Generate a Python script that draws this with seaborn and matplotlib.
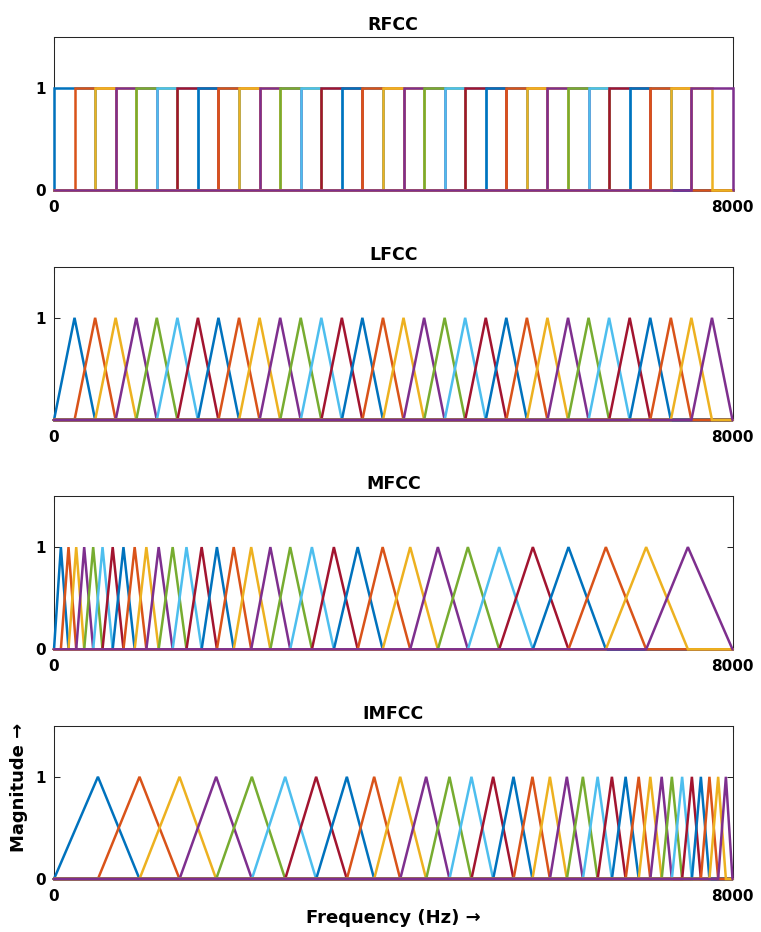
import matplotlib
matplotlib.use("Agg")
import matplotlib.pyplot as plt
import seaborn as sns
import pandas as pd

# ---------------- data ----------------
titles = ["RFCC", "LFCC", "MFCC", "IMFCC"]
f_max = 8000

# band edges (Hz) of the linearly spaced banks (RFCC and LFCC)
linear_edges = [0, 242, 485, 727, 970, 1212, 1455, 1697, 1939, 2182, 2424,
                2667, 2909, 3152, 3394, 3636, 3879, 4121, 4364, 4606, 4848,
                5091, 5333, 5576, 5818, 6061, 6303, 6545, 6788, 7030, 7273,
                7515, 7758, 8000]

# peak (centre) frequencies (Hz) of the mel filters
mfcc_peaks = [81, 171, 262, 356, 462, 572, 692, 819, 951, 1089, 1234, 1399,
              1562, 1741, 1921, 2119, 2325, 2551, 2785, 3041, 3300, 3581,
              3875, 4200, 4526, 4880, 5249, 5646, 6066, 6507, 6982, 7474]

# peak (centre) frequencies (Hz) of the inverted-mel filters
imfcc_peaks = [518, 1008, 1480, 1912, 2333, 2726, 3091, 3453, 3775, 4082,
               4388, 4663, 4922, 5178, 5418, 5641, 5847, 6047, 6236, 6410,
               6578, 6740, 6894, 7031, 7165, 7285, 7406, 7521, 7627, 7728,
               7831, 7922]

yticks_per_panel = [[0, 1], [1], [0, 1], [0, 1]]
x_ticks = [0, 8000]

matlab_colors = ["#0072BD", "#D95319", "#EDB120", "#7E2F8E",
                 "#77AC30", "#4DBEEE", "#A2142F"]


# ---------------- build tables ----------------
def rect_bank(edges):
    rows = []
    for k in range(1, len(edges) - 1):
        lo, hi = edges[k - 1], edges[k + 1]
        xs = [0, lo, lo, hi, hi, f_max]
        ys = [0, 0, 1, 1, 0, 0]
        for i, (x, y) in enumerate(zip(xs, ys)):
            rows.append({"freq": x, "mag": y, "filt": k, "i": i})
    return pd.DataFrame(rows)


def tri_bank(edges):
    rows = []
    for k in range(1, len(edges) - 1):
        xs = [0, edges[k - 1], edges[k], edges[k + 1], f_max]
        ys = [0, 0, 1, 0, 0]
        for i, (x, y) in enumerate(zip(xs, ys)):
            rows.append({"freq": x, "mag": y, "filt": k, "i": i})
    return pd.DataFrame(rows)


tables = [
    rect_bank(linear_edges),
    tri_bank(linear_edges),
    tri_bank([0] + mfcc_peaks + [f_max]),
    tri_bank([0] + imfcc_peaks + [f_max]),
]

# ---------------- style ----------------
sns.set_theme(style="ticks")
plt.rcParams["font.family"] = ["DejaVu Sans"]
plt.rcParams.update({
    "font.weight": "bold",
    "text.color": "black",
    "axes.labelcolor": "black",
    "axes.titlecolor": "black",
    "axes.edgecolor": "#262626",
    "axes.linewidth": 0.75,
    "xtick.direction": "in",
    "ytick.direction": "in",
    "xtick.top": True,
    "ytick.right": True,
    "xtick.major.size": 4,
    "ytick.major.size": 4,
    "xtick.major.width": 0.75,
    "ytick.major.width": 0.75,
    "xtick.color": "#262626",
    "ytick.color": "#262626",
    "xtick.labelcolor": "black",
    "ytick.labelcolor": "black",
})

W, H = 761, 932
fig = plt.figure(figsize=(W / 100, H / 100), dpi=100)

left_px, right_px = 54, 732.5
tops_px = [36.7, 266.7, 496, 725.7]
height_px = 153.3

axes = []
for p, (title, df, yt) in enumerate(zip(titles, tables, yticks_per_panel)):
    top = tops_px[p]
    ax = fig.add_axes([left_px / W, (H - top - height_px) / H,
                       (right_px - left_px) / W, height_px / H])
    n = df["filt"].nunique()
    pal = [matlab_colors[i % 7] for i in range(n)]
    sns.lineplot(data=df, x="freq", y="mag", hue="filt", palette=pal,
                 sort=False, estimator=None, errorbar=None, legend=False,
                 linewidth=1.8, ax=ax)
    for ln in ax.get_lines():
        ln.set_clip_on(False)
        ln.set_zorder(3)
        ln.set_solid_joinstyle("miter")
    ax.set_xlim(0, f_max)
    ax.set_ylim(0, 1.5)
    ax.set_xticks(x_ticks)
    ax.set_xticklabels([str(v) for v in x_ticks])
    ax.set_yticks(yt)
    ax.set_yticklabels([str(v) for v in yt])
    ax.tick_params(axis="x", pad=7, labelsize=11)
    ax.tick_params(axis="y", pad=6, labelsize=11)
    for lab in ax.get_xticklabels() + ax.get_yticklabels():
        lab.set_fontweight("bold")
    ax.set_title(title, fontsize=12.5, fontweight="bold", pad=5,
                 color="black")
    ax.set_xlabel("")
    ax.set_ylabel("")
    for s in ax.spines.values():
        s.set_visible(True)
    axes.append(ax)

last = axes[-1]
last.set_xlabel("Frequency (Hz) \u2192", fontsize=13, fontweight="bold",
                labelpad=4, color="black")
last.set_ylabel("Magnitude \u2192", fontsize=13, fontweight="bold",
                color="black")
last.yaxis.set_label_coords(-0.038, 0.6)

fig.savefig("out.png", dpi=100)
